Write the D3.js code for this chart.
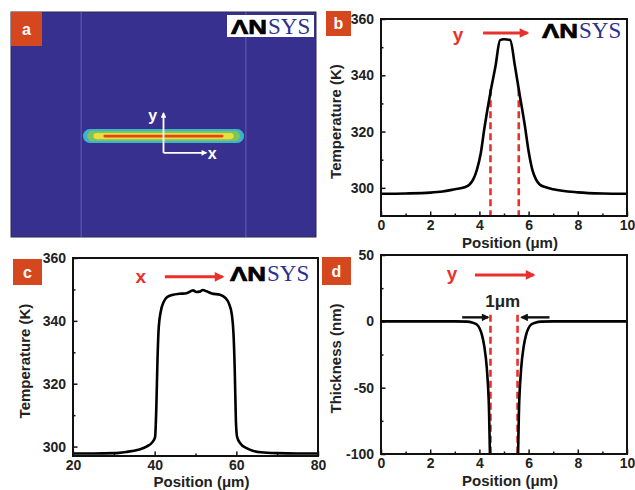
<!DOCTYPE html>
<html>
<head>
<meta charset="utf-8">
<script src="https://cdn.jsdelivr.net/npm/d3@7"></script>
<style>
  body { margin: 0; background: #fff; }
  svg text { font-family: "Liberation Sans", Arial, sans-serif; }
</style>
</head>
<body>
<div class="chart"></div>
<script>
    // panel b: temperature profile along y
    const bPosition    = [0, 1, 2, 2.5, 3, 3.4, 3.6, 3.75, 3.9, 4.05, 4.2, 4.45, 4.65, 4.84, 5.0, 5.25, 5.45, 5.62, 5.85, 6.0, 6.15, 6.3, 6.45, 6.7, 7, 8, 9, 10];
    const bTemperature = [297.9, 298.0, 298.3, 298.7, 299.5, 300.2, 301.2, 303, 306.5, 312, 321, 334, 343, 352.5, 352.8, 352.5, 343, 334, 322, 313, 306.5, 303, 301.2, 300.2, 299.5, 298.4, 298.0, 297.9];

    // panel c: temperature profile along x
    const cPosition    = [20, 25, 30, 33, 36, 38, 39.5, 40.1, 40.4, 40.7, 41.0, 41.5, 42.2, 43, 44.5, 46, 47.8, 49.4, 50.2, 51, 51.8, 52.7, 54, 56, 57.3, 58.2, 58.9, 59.3, 59.6, 59.9, 60.2, 61, 62.5, 64, 66, 70, 75, 80];
    const cTemperature = [297.8, 297.8, 297.9, 298.3, 299.0, 300, 301.5, 303, 312, 328, 338, 343, 346, 347.5, 348.3, 348.6, 348.8, 349.7, 349.2, 349.3, 349.8, 349.4, 348.7, 348.3, 347.3, 345.5, 342, 336, 325, 308, 303, 301, 299.5, 298.7, 298.2, 297.9, 297.8, 297.8];

    // panel d: film thickness along y
    const dPosition  = [0, 1, 2, 3, 3.5, 3.7, 3.9, 4.0, 4.1, 4.2, 4.3, 4.38, 4.46, 5.54, 5.62, 5.7, 5.8, 5.9, 6.0, 6.1, 6.3, 6.5, 7, 8, 9, 10];
    const dThickness = [0, 0, 0, 0, -0.2, -0.8, -2.5, -5, -10, -19, -35, -60, -115, -115, -60, -35, -19, -10, -5, -2.5, -0.8, -0.2, 0, 0, 0, 0];

    // panel a: contour bands of the heated strip (outer to inner)
    const contourHalfLength = [26.4, 25.0, 23.0, 19.7];
    const contourHalfHeight = [2.3, 1.65, 1.0, 0.45];
    const contourColors     = ["#3db4cc", "#7cc55a", "#e6df3c", "#e6431f"];
    const stripEdges        = [-27, 27];

    // tick values
    const posTicks   = [0, 2, 4, 6, 8, 10];
    const posMinor   = [1, 3, 5, 7, 9];
    const tempTicks  = [300, 320, 340, 360];
    const tempMinor  = [310, 330, 350];
    const cPosTicks  = [20, 40, 60, 80];
    const cPosMinor  = [30, 50, 70];
    const thickTicks = [50, 0, -50, -100];
    const thickMinor = [25, -25, -75];

    // red dashed markers at the 1 um width
    const bDashes = [4.45, 5.6];
    const dDashes = [4.45, 5.55];

    const red = "#e8312d";
    const boxColor = "#d5471f";

    const svg = d3.select('.chart').append('svg')
        .attr("width", 635)
        .attr("height", 490);

    const defs = svg.append("defs");
    function marker(id, color) {
        defs.append("marker")
            .attr("id", id)
            .attr("viewBox", "0 0 10 10")
            .attr("refX", 8).attr("refY", 5)
            .attr("markerWidth", 3.6).attr("markerHeight", 3.2)
            .attr("orient", "auto")
            .append("path")
            .attr("d", "M0,0L10,5L0,10z")
            .attr("fill", color);
    }
    marker("arrRed", red);
    marker("arrBlack", "#111");
    marker("arrWhite", "#fff");

    function labelBox(x, y, w, h, letter) {
        svg.append("rect")
            .attr("x", x).attr("y", y).attr("width", w).attr("height", h)
            .attr("fill", boxColor);
        svg.append("text")
            .attr("x", x + w / 2).attr("y", y + h / 2 + 5.5)
            .attr("text-anchor", "middle")
            .attr("font-size", "16px")
            .attr("font-weight", "bold")
            .attr("fill", "#fff")
            .text(letter);
    }

    function logo(x, baseline) {
        svg.append("text")
            .attr("x", x).attr("y", baseline)
            .attr("font-size", "21px")
            .attr("font-weight", "bold")
            .attr("textLength", 36)
            .attr("lengthAdjust", "spacingAndGlyphs")
            .attr("fill", "#000")
            .attr("stroke", "#000")
            .attr("stroke-width", 0.7)
            .text("ΛN");
        svg.append("text")
            .attr("x", x + 37).attr("y", baseline)
            .style("font-family", "'Liberation Serif', 'Times New Roman', serif")
            .attr("font-size", "23px")
            .attr("fill", "#2d3190")
            .text("SYS");
    }

    let clipId = 0;
    function drawPanel(cfg) {
        const g = svg.append("g")
            .attr("transform", `translate(${cfg.left},${cfg.top})`);

        const x = d3.scaleLinear().domain(cfg.xDomain).range([0, cfg.width]);
        const y = d3.scaleLinear().domain(cfg.yDomain).range([cfg.height, 0]);

        // minor ticks
        g.append("g")
            .attr("transform", `translate(0,${cfg.height})`)
            .call(d3.axisBottom(x).tickValues(cfg.xMinor).tickSize(-2.5).tickFormat(""));
        g.append("g")
            .call(d3.axisLeft(y).tickValues(cfg.yMinor).tickSize(-2.5).tickFormat(""));

        // major ticks
        g.append("g")
            .attr("class", "axis x-axis")
            .attr("transform", `translate(0,${cfg.height})`)
            .call(d3.axisBottom(x).tickValues(cfg.xTicks).tickSizeInner(-4.5).tickSizeOuter(0)
                .tickPadding(4).tickFormat(d => String(d)));
        g.append("g")
            .attr("class", "axis y-axis")
            .call(d3.axisLeft(y).tickValues(cfg.yTicks).tickSizeInner(-4.5).tickSizeOuter(0)
                .tickPadding(7).tickFormat(d => String(d)));

        g.selectAll(".domain").remove();
        g.selectAll(".tick line").attr("stroke", "#111").attr("stroke-width", 1.5);
        g.selectAll(".tick text")
            .attr("font-family", "'Liberation Sans', Arial, sans-serif")
            .attr("font-size", "14px")
            .attr("font-weight", "bold")
            .attr("fill", "#222");

        // axis titles
        g.append("text")
            .attr("x", cfg.width / 2 + 6)
            .attr("y", cfg.height + cfg.xTitleOffset)
            .attr("text-anchor", "middle")
            .attr("font-size", "15px")
            .attr("font-weight", "bold")
            .attr("fill", "#222")
            .text(cfg.xTitle);
        g.append("text")
            .attr("transform", `translate(${cfg.yTitleOffset},${cfg.height / 2 + 4}) rotate(-90)`)
            .attr("text-anchor", "middle")
            .attr("font-size", "15px")
            .attr("font-weight", "bold")
            .attr("fill", "#222")
            .text(cfg.yTitle);

        const id = "clip" + (clipId++);
        defs.append("clipPath").attr("id", id)
            .append("rect").attr("width", cfg.width).attr("height", cfg.height);
        const plot = g.append("g").attr("clip-path", `url(#${id})`);

        // frame
        g.append("rect")
            .attr("width", cfg.width).attr("height", cfg.height)
            .attr("fill", "none")
            .attr("stroke", "#111")
            .attr("stroke-width", 2);

        return {g, plot, x, y};
    }

    function curve(p, xs, ys) {
        const pts = xs.map((v, i) => [v, ys[i]]);
        p.plot.append("path")
            .datum(pts)
            .attr("fill", "none")
            .attr("stroke", "#000")
            .attr("stroke-width", 2.6)
            .attr("stroke-linejoin", "round")
            .attr("d", d3.line().x(d => p.x(d[0])).y(d => p.y(d[1])).curve(d3.curveMonotoneX));
    }

    function dashes(p, xs, top, bottom) {
        p.plot.selectAll(null)
            .data(xs)
            .enter()
            .append("line")
            .attr("x1", d => p.x(d)).attr("x2", d => p.x(d))
            .attr("y1", p.y(top)).attr("y2", p.y(bottom))
            .attr("stroke", red)
            .attr("stroke-width", 2.6)
            .attr("stroke-dasharray", "7,4");
    }

    function arrow(p, x1, x2, yv, color, mark, width) {
        p.g.append("line")
            .attr("x1", p.x(x1)).attr("x2", p.x(x2))
            .attr("y1", p.y(yv)).attr("y2", p.y(yv))
            .attr("stroke", color)
            .attr("stroke-width", width)
            .attr("marker-end", `url(#${mark})`);
    }

    function redLabel(p, xv, yv, txt) {
        p.g.append("text")
            .attr("x", p.x(xv)).attr("y", p.y(yv))
            .attr("text-anchor", "middle")
            .attr("font-size", "19px")
            .attr("font-weight", "bold")
            .attr("fill", red)
            .text(txt);
    }

    // ---------- panel a ----------
    const ax = d3.scaleLinear().domain([-50, 50]).range([11, 316]);
    const ay = d3.scaleLinear().domain([40.7, -33.1]).range([12, 237]);

    svg.append("rect")
        .attr("x", ax(-50)).attr("y", ay(40.7))
        .attr("width", ax(50) - ax(-50)).attr("height", ay(-33.1) - ay(40.7))
        .attr("fill", "#38308f")
        .attr("stroke", "#2a2a4a")
        .attr("stroke-width", 1);

    svg.selectAll(".strip-edge")
        .data(stripEdges)
        .enter()
        .append("line")
        .attr("class", "strip-edge")
        .attr("x1", d => ax(d)).attr("x2", d => ax(d))
        .attr("y1", ay(40.7)).attr("y2", ay(-33.1))
        .attr("stroke", "#6561b0")
        .attr("stroke-width", 1);

    svg.selectAll(".contour")
        .data(contourColors)
        .enter()
        .append("rect")
        .attr("class", "contour")
        .attr("x", (d, i) => ax(-contourHalfLength[i]))
        .attr("width", (d, i) => ax(contourHalfLength[i]) - ax(-contourHalfLength[i]))
        .attr("y", (d, i) => ay(contourHalfHeight[i]))
        .attr("height", (d, i) => ay(-contourHalfHeight[i]) - ay(contourHalfHeight[i]))
        .attr("rx", (d, i) => (ay(-contourHalfHeight[i]) - ay(contourHalfHeight[i])) / 2)
        .attr("fill", d => d);

    // coordinate arrows
    svg.append("line")
        .attr("x1", ax(0)).attr("y1", ay(-5.5)).attr("x2", ax(0)).attr("y2", ay(7.5))
        .attr("stroke", "#fff").attr("stroke-width", 1.8)
        .attr("marker-end", "url(#arrWhite)");
    svg.append("line")
        .attr("x1", ax(0)).attr("y1", ay(-5.5)).attr("x2", ax(14)).attr("y2", ay(-5.5))
        .attr("stroke", "#fff").attr("stroke-width", 1.8)
        .attr("marker-end", "url(#arrWhite)");
    svg.append("text")
        .attr("x", ax(-3.5)).attr("y", ay(5))
        .attr("text-anchor", "middle")
        .attr("font-size", "16px").attr("font-weight", "bold")
        .attr("fill", "#fff").text("y");
    svg.append("text")
        .attr("x", ax(16)).attr("y", ay(-7.5))
        .attr("text-anchor", "middle")
        .attr("font-size", "16px").attr("font-weight", "bold")
        .attr("fill", "#fff").text("x");

    svg.append("rect")
        .attr("x", 227).attr("y", 15).attr("width", 87).attr("height", 22)
        .attr("fill", "#fff");
    logo(231, 34);
    labelBox(11, 12, 31, 34, "a");

    // ---------- panel b ----------
    const pb = drawPanel({
        left: 381, top: 19, width: 246, height: 197,
        xDomain: [0, 10], yDomain: [290, 360],
        xTicks: posTicks, xMinor: posMinor,
        yTicks: tempTicks, yMinor: tempMinor,
        xTitle: "Position (μm)", yTitle: "Temperature (K)",
        xTitleOffset: 32, yTitleOffset: -40
    });
    dashes(pb, bDashes, 335, 290);
    curve(pb, bPosition, bTemperature);
    redLabel(pb, 3.13, 352.2, "y");
    arrow(pb, 4.15, 5.95, 355, red, "arrRed", 3);
    logo(542, 38);
    labelBox(326, 11, 25, 25, "b");

    // ---------- panel c ----------
    const pc = drawPanel({
        left: 73, top: 258, width: 245, height: 198,
        xDomain: [20, 80], yDomain: [297, 360],
        xTicks: cPosTicks, xMinor: cPosMinor,
        yTicks: tempTicks, yMinor: tempMinor,
        xTitle: "Position (μm)", yTitle: "Temperature (K)",
        xTitleOffset: 31, yTitleOffset: -43
    });
    curve(pc, cPosition, cTemperature);
    redLabel(pc, 36.6, 352, "x");
    arrow(pc, 42.5, 56.6, 354, red, "arrRed", 3);
    logo(230, 281);
    labelBox(13, 259, 29, 26, "c");

    // ---------- panel d ----------
    const pd = drawPanel({
        left: 381, top: 255, width: 246, height: 199,
        xDomain: [0, 10], yDomain: [-100, 50],
        xTicks: posTicks, xMinor: posMinor,
        yTicks: thickTicks, yMinor: thickMinor,
        xTitle: "Position (μm)", yTitle: "Thickness (nm)",
        xTitleOffset: 32, yTitleOffset: -40
    });
    dashes(pd, dDashes, 5, -100);
    curve(pd, dPosition, dThickness);
    redLabel(pd, 2.89, 30.8, "y");
    arrow(pd, 3.82, 6.2, 35, red, "arrRed", 3);
    arrow(pd, 3.3, 4.35, 3, "#111", "arrBlack", 2.4);
    arrow(pd, 6.85, 5.72, 3, "#111", "arrBlack", 2.4);
    pd.g.append("text")
        .attr("x", pd.x(4.95)).attr("y", pd.y(10.8))
        .attr("text-anchor", "middle")
        .attr("font-size", "17px")
        .attr("font-weight", "bold")
        .attr("fill", "#222")
        .text("1μm");
    labelBox(322, 257, 29, 28, "d");
</script>
</body>
</html>
